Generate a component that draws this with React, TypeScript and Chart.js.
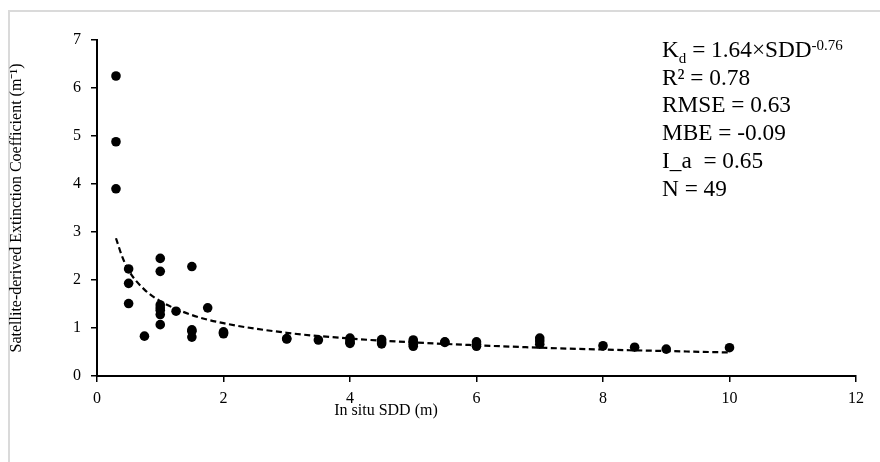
import React, { useEffect, useRef } from "react";
import { Chart, registerables } from "chart.js";

Chart.register(...registerables);

// Observed points: in situ SDD (m) and satellite-derived Kd (m^-1)
const sddObserved = [
  0.3, 0.3, 0.3,
  0.5, 0.5, 0.5,
  0.75,
  1, 1, 1, 1, 1, 1, 1,
  1.25,
  1.5, 1.5, 1.5, 1.5,
  1.75,
  2, 2, 2,
  3, 3,
  3.5,
  4, 4, 4, 4,
  4.5, 4.5, 4.5,
  5, 5, 5, 5,
  5.5, 5.5,
  6, 6, 6,
  7, 7, 7,
  8,
  8.5,
  9,
  10,
];
const kdObserved = [
  6.25, 4.88, 3.9,
  2.23, 1.93, 1.51,
  0.83,
  2.45, 2.18, 1.48, 1.42, 1.37, 1.28, 1.07,
  1.35,
  2.28, 0.96, 0.93, 0.81,
  1.42,
  0.92, 0.9, 0.88,
  0.78, 0.77,
  0.75,
  0.79, 0.74, 0.7, 0.68,
  0.76, 0.71, 0.67,
  0.75, 0.71, 0.66, 0.62,
  0.7, 0.71,
  0.71, 0.66, 0.62,
  0.79, 0.73, 0.66,
  0.63,
  0.6,
  0.56,
  0.59,
];

// Dashed power-law trend line as drawn in the figure
const trendSdd = [0.3, 0.4, 0.5, 0.75, 1, 1.5, 2, 3, 4, 5, 6, 7, 8, 9, 10];
const trendKd = [2.87, 2.48, 2.2, 1.8, 1.56, 1.27, 1.1, 0.9, 0.78, 0.7, 0.64, 0.59, 0.55, 0.52, 0.49];

const xAxisMin = 0;
const xAxisMax = 12;
const xAxisStep = 2;
const yAxisMin = 0;
const yAxisMax = 7;
const yAxisStep = 1;

const xTitle = "In situ SDD (m)";
const yTitle = "Satellite-derived Extinction Coefficient (m\u207B\u00B9)";

// Statistics box lines (first line is the fitted equation)
const eqMain = "K";
const eqSub = "d";
const eqMid = " = 1.64\u00D7SDD";
const eqSup = "-0.76";
const statLines = ["R\u00B2 = 0.78", "RMSE = 0.63", "MBE = -0.09", "I_a  = 0.65", "N = 49"];

const SERIF = '"Liberation Serif", "Times New Roman", serif';

const statsPlugin = {
  id: "statsBox",
  afterDraw(chart: any) {
    const ctx = chart.ctx as CanvasRenderingContext2D;
    const x0 = 662;
    const firstBase = 57;
    const step = 27.7;
    ctx.save();
    ctx.fillStyle = "#000";
    ctx.textBaseline = "alphabetic";
    ctx.textAlign = "left";
    const big = `23.3px ${SERIF}`;
    const small = `15px ${SERIF}`;
    let x = x0;
    ctx.font = big;
    ctx.fillText(eqMain, x, firstBase);
    x += ctx.measureText(eqMain).width;
    ctx.font = small;
    ctx.fillText(eqSub, x, firstBase + 6);
    x += ctx.measureText(eqSub).width;
    ctx.font = big;
    ctx.fillText(eqMid, x, firstBase);
    x += ctx.measureText(eqMid).width;
    ctx.font = small;
    ctx.fillText(eqSup, x, firstBase - 7);
    ctx.font = big;
    statLines.forEach((line, i) => {
      ctx.fillText(line, x0, firstBase + step * (i + 1));
    });
    // x-axis title, placed left of centre as in the figure
    ctx.font = `16px ${SERIF}`;
    ctx.textAlign = "center";
    ctx.textBaseline = "middle";
    ctx.fillText(xTitle, 386, 411);
    ctx.restore();
  },
};

export default function App() {
  const canvasRef = useRef<HTMLCanvasElement | null>(null);

  useEffect(() => {
    if (!canvasRef.current) return;
    const observed = sddObserved.map((s, i) => ({ x: s, y: kdObserved[i] }));
    const trend = trendSdd.map((s, i) => ({ x: s, y: trendKd[i] }));
    const tickFont = { family: SERIF, size: 16 };
    const titleFont = { family: SERIF, size: 16 };
    const chart = new Chart(canvasRef.current, {
      type: "scatter",
      data: {
        datasets: [
          {
            label: "Trend",
            data: trend,
            showLine: true,
            borderColor: "#000",
            borderWidth: 2.2,
            borderDash: [6, 3.5],
            pointRadius: 0,
            fill: false,
            cubicInterpolationMode: "monotone",
            order: 0,
          } as any,
          {
            label: "Observed",
            data: observed,
            backgroundColor: "#000",
            borderColor: "#000",
            borderWidth: 0,
            pointRadius: 4.8,
            order: 1,
          },
        ],
      },
      options: {
        animation: false,
        responsive: false,
        devicePixelRatio: 1,
        layout: { padding: { left: 0, top: 40, right: 24, bottom: 38 } },
        plugins: {
          legend: { display: false },
          tooltip: { enabled: false },
        },
        scales: {
          x: {
            type: "linear",
            min: xAxisMin,
            max: xAxisMax,
            afterFit: (scale: any) => {
              scale.height = 48;
            },
            ticks: { stepSize: xAxisStep, font: tickFont, color: "#000", padding: 7 },
            grid: {
              drawOnChartArea: false,
              drawTicks: true,
              tickLength: 6,
              color: "#000",
              lineWidth: 1.5,
            },
            border: { color: "#000", width: 2 },
            title: { display: false, text: xTitle },
          },
          y: {
            type: "linear",
            min: yAxisMin,
            max: yAxisMax,
            afterFit: (scale: any) => {
              scale.width = 97;
            },
            ticks: { stepSize: yAxisStep, font: tickFont, color: "#000", padding: 10 },
            grid: {
              drawOnChartArea: false,
              drawTicks: true,
              tickLength: 6,
              color: "#000",
              lineWidth: 1.5,
            },
            border: { color: "#000", width: 2 },
            title: {
              display: true,
              text: yTitle,
              font: titleFont,
              color: "#000",
              padding: { top: 7, bottom: 4 },
            },
          },
        },
      },
      plugins: [statsPlugin],
    });
    return () => chart.destroy();
  }, []);

  return (
    <>
      <div
        style={{
          position: "fixed",
          left: 8,
          top: 10,
          width: 900,
          height: 500,
          border: "2px solid #dadada",
          boxSizing: "border-box",
          background: "#fff",
        }}
      />
      <div style={{ position: "fixed", left: 0, top: 0, width: 880, height: 462 }}>
        <canvas ref={canvasRef} width={880} height={462} style={{ width: 880, height: 462, display: "block" }} />
      </div>
    </>
  );
}
